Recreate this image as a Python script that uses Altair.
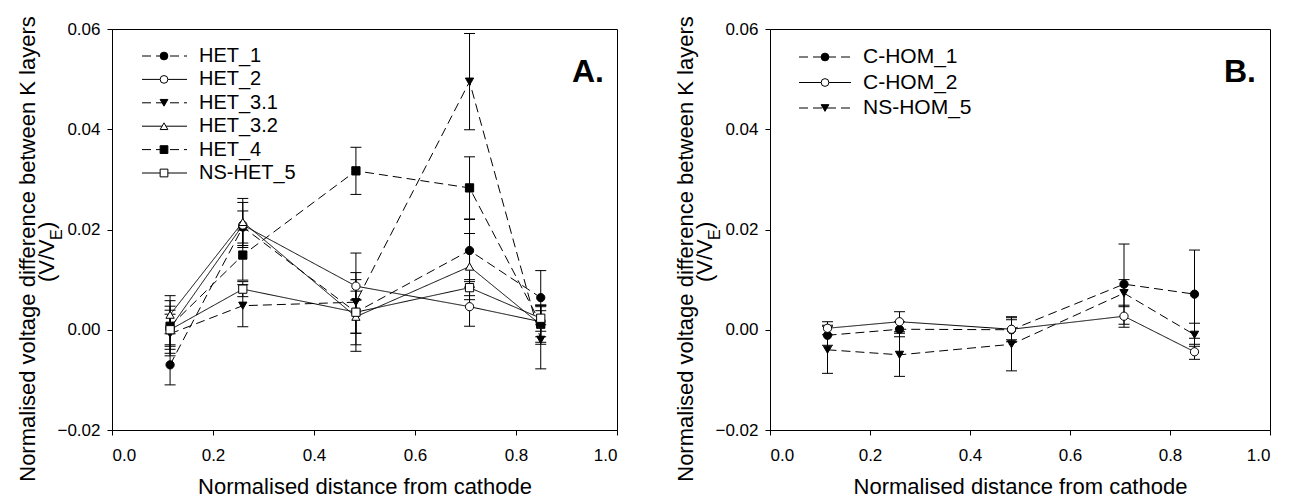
import altair as alt
import pandas as pd

# ---------------- data ----------------
x_pos = [0.115, 0.259, 0.483, 0.708, 0.849]

names_A = ["HET_1", "HET_2", "HET_3.1", "HET_3.2", "HET_4", "NS-HET_5"]
HET_1 = [-0.0070, 0.0205, 0.0035, 0.0158, 0.0064]
HET_1_err = [0.0040, 0.0032, 0.0065, 0.0062, 0.0054]
HET_2 = [0.0003, 0.0209, 0.0087, 0.0046, 0.0016]
HET_2_err = [0.0055, 0.0045, 0.0027, 0.0039, 0.0030]
HET_3_1 = [-0.0008, 0.0048, 0.0055, 0.0495, -0.0020]
HET_3_1_err = [0.0039, 0.0042, 0.0098, 0.0096, 0.0058]
HET_3_2 = [0.0030, 0.0215, 0.0026, 0.0126, 0.0010]
HET_3_2_err = [0.0038, 0.0047, 0.0033, 0.0066, 0.0039]
HET_4 = [0.0007, 0.0149, 0.0317, 0.0283, 0.0012]
HET_4_err = [0.0040, 0.0050, 0.0047, 0.0062, 0.0037]
NS_HET_5 = [0.0000, 0.0081, 0.0035, 0.0084, 0.0023]
NS_HET_5_err = [0.0039, 0.0015, 0.0042, 0.0016, 0.0026]

names_B = ["C-HOM_1", "C-HOM_2", "NS-HOM_5"]
C_HOM_1 = [-0.0011, 0.0001, 0.0000, 0.0091, 0.0071]
C_HOM_1_err = [0.0020, 0.0015, 0.0020, 0.0080, 0.0088]
C_HOM_2 = [0.0003, 0.0016, 0.0001, 0.0027, -0.0044]
C_HOM_2_err = [0.0013, 0.0020, 0.0025, 0.0022, 0.0015]
NS_HOM_5 = [-0.0040, -0.0050, -0.0029, 0.0073, -0.0010]
NS_HOM_5_err = [0.0047, 0.0043, 0.0053, 0.0027, 0.0023]

series_A = [HET_1, HET_2, HET_3_1, HET_3_2, HET_4, NS_HET_5]
errs_A = [HET_1_err, HET_2_err, HET_3_1_err, HET_3_2_err, HET_4_err, NS_HET_5_err]
shapes_A = ["circle", "circle", "triangle-down", "triangle-up", "square", "square"]
fills_A = ["black", "white", "black", "white", "black", "white"]
dash_A = [[9, 5], [1, 0], [9, 5], [1, 0], [9, 5], [1, 0]]

series_B = [C_HOM_1, C_HOM_2, NS_HOM_5]
errs_B = [C_HOM_1_err, C_HOM_2_err, NS_HOM_5_err]
shapes_B = ["circle", "circle", "triangle-down"]
fills_B = ["black", "white", "black"]
dash_B = [[9, 5], [1, 0], [9, 5]]

x_ticks = [0.0, 0.2, 0.4, 0.6, 0.8, 1.0]
y_ticks = [-0.02, 0.0, 0.02, 0.04, 0.06]

FONT = "Liberation Sans"
TITLE_FS = 22


def make_panel(names, series, errs, shapes, fills, dashes, label, width, height,
               leg_range, leg_line, leg_marker_x, leg_text_x, leg_fs, label_x):
    rows = []
    for n, ys, es in zip(names, series, errs):
        for xv, yv, ev in zip(x_pos, ys, es):
            rows.append({"series": n, "x": xv, "y": yv, "lo": yv - ev, "hi": yv + ev})
    df = pd.DataFrame(rows)
    leg_df = pd.DataFrame({"series": names})

    xs = alt.Scale(domain=[0, 1], nice=False, zero=False)
    ys = alt.Scale(domain=[-0.02, 0.06], nice=False, zero=False)
    shape_sc = alt.Scale(domain=names, range=shapes)
    fill_sc = alt.Scale(domain=names, range=fills)
    dash_sc = alt.Scale(domain=names, range=dashes)
    leg_sc = alt.Scale(type="point", domain=names, range=leg_range, padding=0)

    X = alt.X("x:Q", scale=xs, axis=alt.Axis(values=x_ticks, format=".1f",
                                              title="Normalised distance from cathode"))
    Y = alt.Y("y:Q", scale=ys, axis=alt.Axis(values=y_ticks, format=".2f", title=None))
    Yn = alt.Y("y:Q", scale=ys, axis=None)

    base = alt.Chart(df)
    err = base.mark_rule(color="black", strokeWidth=1).encode(
        x=X, y=alt.Y("lo:Q", scale=ys, axis=None), y2="hi:Q")
    cap_lo = base.mark_point(shape="stroke", size=121, stroke="black", strokeWidth=1,
                             opacity=1).encode(x=X, y=alt.Y("lo:Q", scale=ys, axis=None))
    cap_hi = base.mark_point(shape="stroke", size=121, stroke="black", strokeWidth=1,
                             opacity=1).encode(x=X, y=alt.Y("hi:Q", scale=ys, axis=None))
    lines = base.mark_line(color="black", strokeWidth=1).encode(
        x=X, y=Yn, detail="series:N",
        strokeDash=alt.StrokeDash("series:N", scale=dash_sc, legend=None))
    pts = base.mark_point(filled=True, stroke="black", strokeWidth=1, size=68,
                          opacity=1).encode(
        x=X, y=Y,
        shape=alt.Shape("series:N", scale=shape_sc, legend=None),
        fill=alt.Fill("series:N", scale=fill_sc, legend=None))

    LY = alt.Y("series:N", scale=leg_sc, axis=None)
    lb = alt.Chart(leg_df)
    leg_rule = lb.mark_rule(color="black", strokeWidth=1).encode(
        x=alt.value(leg_line[0]), x2=alt.value(leg_line[1]), y=LY,
        strokeDash=alt.StrokeDash("series:N", scale=dash_sc, legend=None))
    leg_pts = lb.mark_point(filled=True, stroke="black", strokeWidth=1, size=60,
                            opacity=1).encode(
        x=alt.value(leg_marker_x), y=LY,
        shape=alt.Shape("series:N", scale=shape_sc, legend=None),
        fill=alt.Fill("series:N", scale=fill_sc, legend=None))
    leg_txt = lb.mark_text(align="left", baseline="middle", fontSize=leg_fs,
                           font=FONT, color="black").encode(
        x=alt.value(leg_text_x), y=LY, text="series:N")

    one = pd.DataFrame({"k": [0]})
    t1 = alt.Chart(one).mark_text(
        text="Normalised voltage difference between K layers", angle=270,
        align="center", baseline="alphabetic", fontSize=TITLE_FS, font=FONT,
        color="black").encode(x=alt.value(-77), y=alt.value(220))
    t2a = alt.Chart(one).mark_text(
        text="(V/V", angle=270, align="left", baseline="alphabetic",
        fontSize=TITLE_FS, font=FONT, color="black").encode(
        x=alt.value(-58), y=alt.value(253))
    t2e = alt.Chart(one).mark_text(
        text="E", angle=270, align="left", baseline="alphabetic",
        fontSize=16, font=FONT, color="black").encode(
        x=alt.value(-50), y=alt.value(211))
    t2b = alt.Chart(one).mark_text(
        text=")", angle=270, align="left", baseline="alphabetic",
        fontSize=TITLE_FS, font=FONT, color="black").encode(
        x=alt.value(-58), y=alt.value(200))
    lab = alt.Chart(one).mark_text(
        text=label, align="right", baseline="alphabetic", fontSize=32,
        fontWeight="bold", font=FONT, color="black").encode(
        x=alt.value(label_x), y=alt.value(53))

    return alt.layer(
        t1, t2a, t2e, t2b, lab, err, cap_lo, cap_hi, lines, pts,
        leg_rule, leg_pts, leg_txt
    ).resolve_scale(y="independent").properties(width=width, height=height)


panel_A = make_panel(names_A, series_A, errs_A, shapes_A, fills_A, dash_A, "A.",
                     505, 401, [27, 144], [30, 75], 52, 87, 20, 492)
panel_B = make_panel(names_B, series_B, errs_B, shapes_B, fills_B, dash_B, "B.",
                     500, 401, [28, 79], [29, 81], 55, 93, 21, 486)

chart = alt.hconcat(panel_A, panel_B, spacing=56).properties(
    padding={"left": 8, "top": 7, "right": 0, "bottom": 0}
).configure_view(
    stroke="black", strokeWidth=1
).configure_axis(
    grid=False, domainColor="black", domainWidth=1, tickColor="black",
    tickSize=5, tickWidth=1, labelColor="black", labelFont=FONT,
    labelFontSize=17, labelPadding=7, titleFont=FONT, titleFontSize=TITLE_FS,
    titleFontWeight="normal", titleColor="black", titlePadding=13
).configure_axisX(labelPadding=12)

chart.save("out.html", embed_options={"renderer": "svg", "actions": False})
